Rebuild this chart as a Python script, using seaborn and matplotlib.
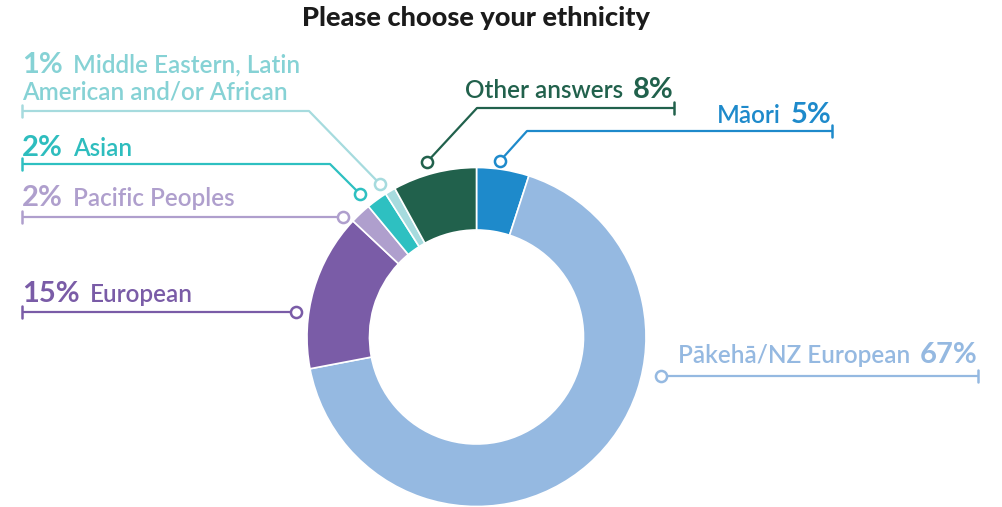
"""Donut chart: Please choose your ethnicity (survey share by group)."""

import matplotlib
matplotlib.use("Agg")
import matplotlib.pyplot as plt
import seaborn as sns

# data, clockwise from 12 o'clock
groups = ["Māori", "Pākehā/NZ European", "European", "Pacific Peoples",
          "Asian", "Middle Eastern, Latin American and/or African", "Other answers"]
shares = [5, 67, 15, 2, 2, 1, 8]
hex_colors = ["#1E8ACB", "#95B9E1", "#7A5CA7", "#AF9FCD",
              "#2EC0C1", "#A6DBDE", "#21614C"]
text_colors = ["#1E8ACB", "#95B9E1", "#7A5CA7", "#AF9FCD",
               "#2EBDBE", "#86D2D5", "#21614C"]

sns.set_theme(style="white")
plt.rcParams["font.family"] = ["Lato", "DejaVu Sans"]

W, H = 1002, 507
fig = plt.figure(figsize=(W / 100, H / 100), dpi=100)
ax = fig.add_axes([0, 0, 1, 1])

def Y(y):
    # picture rows are counted from the top
    return H - y

palette = sns.color_palette(hex_colors)
ax.pie(shares, colors=palette, startangle=90, counterclock=False,
       center=(476.5, Y(337)), radius=169.5, frame=True,
       wedgeprops=dict(width=62.5, edgecolor="white", linewidth=1.2))
ax.set_xlim(0, W)
ax.set_ylim(0, H)
ax.set_aspect("equal")
ax.axis("off")

ax.text(476, Y(18), "Please choose your ethnicity", ha="center", va="center",
        fontsize=19.5, fontweight="black", color="#1b1b1b")

# callout layout: (dot, elbow or None, line end x, text baseline, side)
callouts = [
    ((500, 161), (527, 131), 832, 123, "right"),
    ((661, 376), None, 978, 363, "right"),
    ((296, 312), None, 22, 302, "left"),
    ((343, 217), None, 22, 206, "left"),
    ((360, 194), (330, 164), 22, 156, "left"),
    ((380, 184), (309, 111), 22, 73, "left"),
    ((427, 162), (477, 108), 674, 98, "right"),
]

fig.canvas.draw()
renderer = fig.canvas.get_renderer()
gap = 10
label_fs, pct_fs = 17.5, 21

for name, share, col, tcol, (dot, elbow, x_end, base, side) in zip(
        groups, shares, hex_colors, text_colors, callouts):
    y_line = elbow[1] if elbow else dot[1]
    xs = [dot[0]] + ([elbow[0]] if elbow else []) + [x_end]
    ys = [dot[1]] + ([elbow[1]] if elbow else []) + [y_line]
    ax.plot(xs, [Y(v) for v in ys], color=col, lw=1.6, solid_capstyle="butt", zorder=3)
    ax.plot([x_end, x_end], [Y(y_line - 6), Y(y_line + 6)], color=col, lw=1.8, zorder=3)
    ax.plot(dot[0], Y(dot[1]), marker="o", ms=8, mfc="white", mec=col, mew=1.8, zorder=4)

    pct = f"{share}%"
    if side == "left":
        first, second = name, None
        if name.startswith("Middle"):
            first, second = "Middle Eastern, Latin", "American and/or African"
        t = ax.text(x_end, Y(base), pct, ha="left", va="baseline",
                    fontsize=pct_fs, fontweight="bold", color=tcol)
        bb = t.get_window_extent(renderer)
        ax.text(bb.x1 + gap, Y(base), first, ha="left", va="baseline",
                fontsize=label_fs, fontweight="semibold", color=tcol)
        if second:
            ax.text(x_end, Y(base + 26), second, ha="left", va="baseline",
                    fontsize=label_fs, fontweight="semibold", color=tcol)
    else:
        t = ax.text(x_end, Y(base), pct, ha="right", va="baseline",
                    fontsize=pct_fs, fontweight="bold", color=tcol)
        bb = t.get_window_extent(renderer)
        ax.text(bb.x0 - gap, Y(base), name, ha="right", va="baseline",
                fontsize=label_fs, fontweight="semibold", color=tcol)

fig.savefig("out.png", dpi=100)
